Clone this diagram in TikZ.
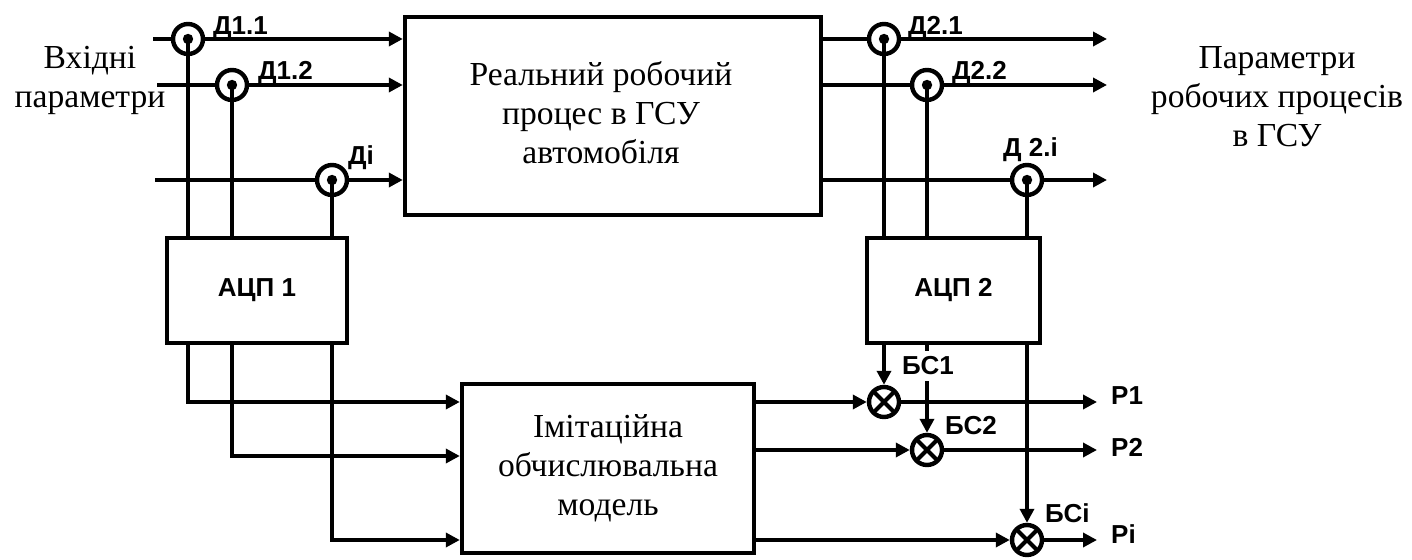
\documentclass[tikz,border=0pt]{standalone}
\usepackage{fontspec}
\setmainfont{Liberation Serif}
\newfontfamily\labfont{Liberation Sans}
\usetikzlibrary{arrows.meta}

\begin{document}
\begin{tikzpicture}[x=0.5pt, y=-0.5pt, line width=2.2pt,
  >={Triangle[length=7pt,width=7pt]},
  txt/.style={font=\fontsize{16.8}{19.5}\selectfont, align=center},
  block/.style={draw, rectangle, inner sep=0pt, txt},
  tag/.style={font=\labfont\bfseries\fontsize{13}{13}\selectfont, inner sep=0pt},
  sensor/.style={draw, circle, minimum size=15pt, inner sep=0pt,
    path picture={\fill (path picture bounding box.center) circle (2.6pt);}},
  mixer/.style={draw, circle, minimum size=15pt, inner sep=0pt,
    path picture={\draw[line width=2pt]
      (path picture bounding box.north west) -- (path picture bounding box.south east)
      (path picture bounding box.north east) -- (path picture bounding box.south west);}}]
  \useasboundingbox (0,0) rectangle (1412,560);

  % блоки
  \node[block, minimum width=208pt, minimum height=99pt] (real) at (613,116) {};
  \node[txt] (realtxt) at (601,113) {Реальний робочий\\процес в ГСУ\\автомобіля};
  \node[block, minimum width=146pt, minimum height=84.5pt] (model) at (608,468.5)
    {Імітаційна\\обчислювальна\\модель};
  \node[block, tag, minimum width=90pt, minimum height=52.5pt] (adc1) at (257,290.5) {АЦП 1};
  \node[block, tag, minimum width=86.5pt, minimum height=52.5pt] (adc2) at (953.5,290.5) {АЦП 2};

  \node[txt] (inlab) at (90,80) {Вхідні\\параметри};
  \node[txt] (outlab) at (1277,97) {Параметри\\робочих процесів\\в ГСУ};

  % датчики
  \node[sensor] (d11) at (188,39) {};
  \node[sensor] (d12) at (232,85) {};
  \node[sensor] (d1i) at (332,180) {};
  \node[sensor] (d21) at (884,39) {};
  \node[sensor] (d22) at (927,85) {};
  \node[sensor] (d2i) at (1027,180) {};

  % блоки порівняння
  \node[mixer] (bs1) at (884,402) {};
  \node[mixer] (bs2) at (927,450) {};
  \node[mixer] (bsi) at (1027,540) {};

  \coordinate (in1) at (153,39);
  \coordinate (in2) at (157,85);
  \coordinate (in3) at (155,180);
  \coordinate (out1) at (1107,39);
  \coordinate (out2) at (1107,85);
  \coordinate (out3) at (1107,180);

  \node[tag, anchor=base west, inner xsep=6pt] (p1) at (1097,405) {P1};
  \node[tag, anchor=base west, inner xsep=6pt] (p2) at (1097,457) {P2};
  \node[tag, anchor=base west, inner xsep=6pt] (pn) at (1097,543) {Pi};

  % лінії
  \foreach \s/\c in {d11/in1, d12/in2, d1i/in3}{
    \draw (\c) -- (\s);
    \draw[->] (\s) -- (\s -| real.west);
  }
  \foreach \s/\c in {d21/out1, d22/out2, d2i/out3}{
    \draw (\s -| real.east) -- (\s);
    \draw[->] (\s) -- (\c);
  }
  \foreach \s in {d11, d12, d1i}
    \draw (\s.center) -- (\s.center |- adc1.north);
  \foreach \s in {d21, d22, d2i}
    \draw (\s.center) -- (\s.center |- adc2.north);

  \draw[->] (adc1.south -| d11) |- (model.west |- bs1);
  \draw[->] (adc1.south -| d12) |- ([yshift=-3pt]model.west |- bs2);
  \draw[->] (adc1.south -| d1i) |- (model.west |- bsi);

  \foreach \m/\p in {bs1/p1, bs2/p2, bsi/pn}{
    \draw[->] (adc2.south -| \m) -- (\m);
    \draw[->] (model.east |- \m) -- (\m);
    \draw[->] (\m) -- (\m -| \p.west);
  }

  % підписи
  \node[tag, anchor=base west] (l11) at (211,35) {Д1.1};
  \node[tag, anchor=base west] (l12) at (256,80) {Д1.2};
  \node[tag, anchor=base west] (l1i) at (346,165) {Ді};
  \node[tag, anchor=base west] (l21) at (906,35) {Д2.1};
  \node[tag, anchor=base west] (l22) at (950,80) {Д2.2};
  \node[tag, anchor=base west] (l2i) at (1001,157) {Д 2.і};
  \node[tag, anchor=base west, fill=white, inner xsep=1pt, inner ysep=3pt] (lb1) at (898,375) {БС1};
  \node[tag, anchor=base west] (lb2) at (943,435) {БС2};
  \node[tag, anchor=base west] (lbi) at (1043,523) {БСі};
\end{tikzpicture}
\end{document}
